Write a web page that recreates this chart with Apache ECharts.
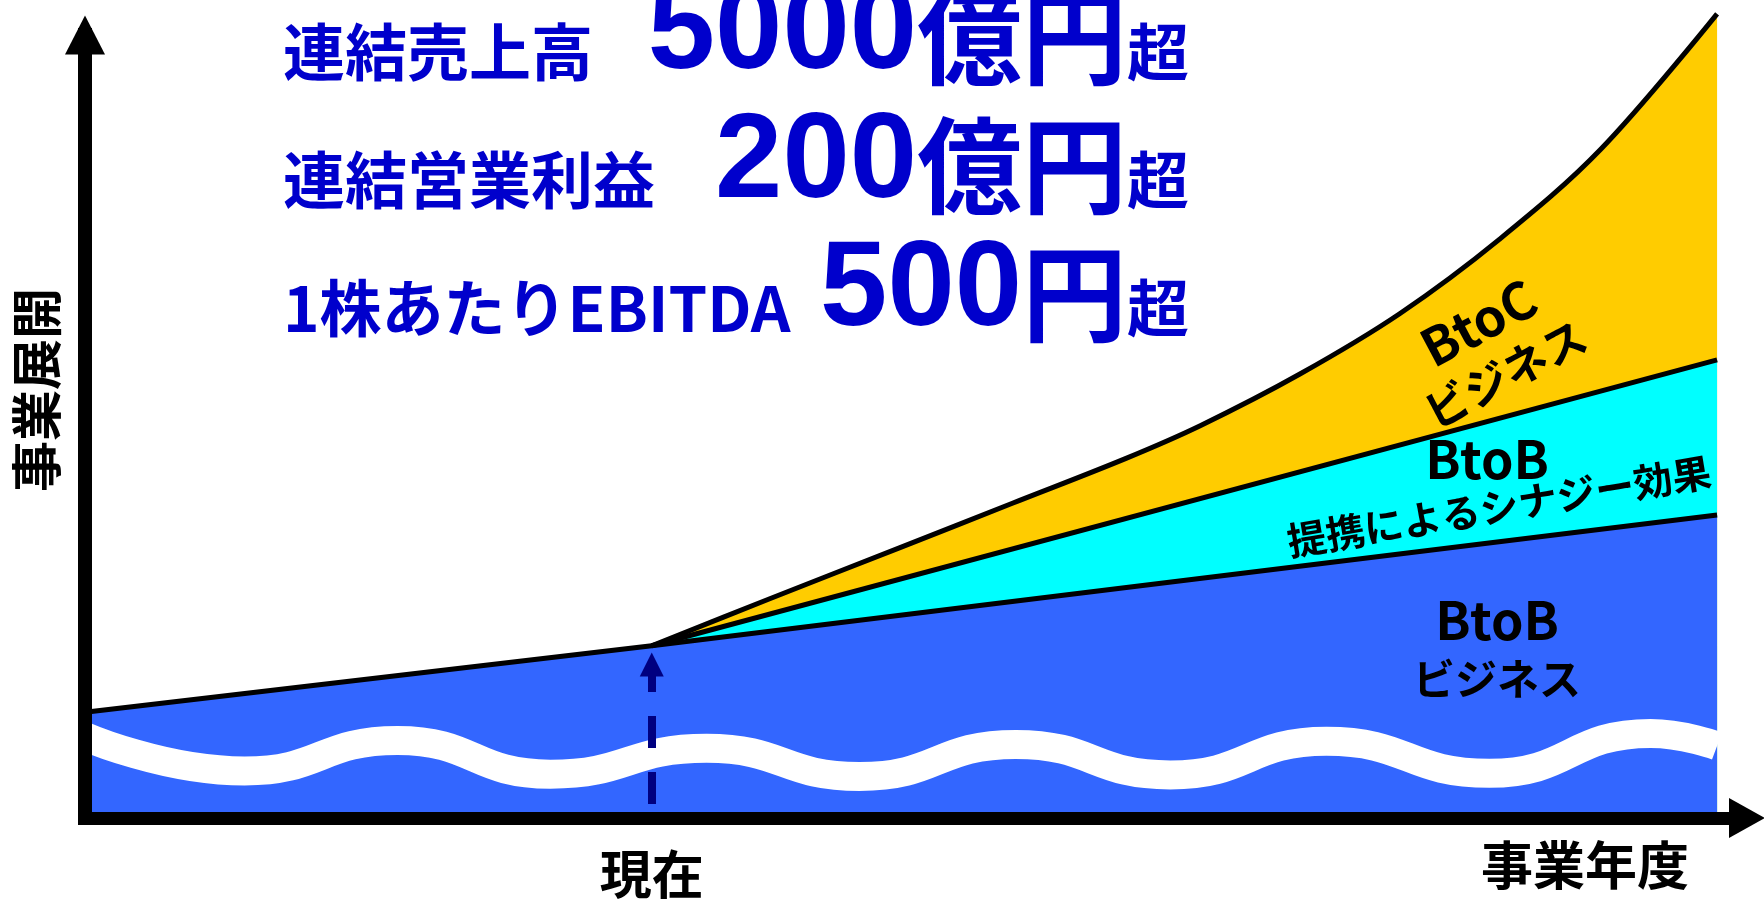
<!DOCTYPE html>
<html lang="ja">
<head>
<meta charset="utf-8">
<title>事業展開</title>
<script src="https://cdn.jsdelivr.net/npm/echarts@6/dist/echarts.min.js"></script>
<style>
  html, body { margin: 0; padding: 0; background: #ffffff; }
  #chart { width: 1764px; height: 900px; }
</style>
</head>
<body>
<div id="chart"></div>
<script>
// ---- axis texts -------------------------------------------------------
const xAxisTitle = '事業年度';
const yAxisTitle = '事業展開';
const nowLabel = '現在';
const nowYear = 34.1;              // position of "today" on the business-year scale

// ---- business levels (abstract units, 0–100 scale) ---------------------
// BtoB business (top of the blue band)
const btobX = [0, 34.1, 98.2];
const btobLevel = [13.5, 22.0, 38.7];
// BtoB + alliance synergy (top of the cyan band)
const synergyX = [34.1, 98.2];
const synergyLevel = [22.0, 58.5];
// BtoB + synergy + BtoC business (top of the yellow band)
const btocX = [34.1, 41.2, 49.0, 55.8, 62.6, 67.1, 73.1, 79.1, 85.1, 91.2, 98.2];
const btocLevel = [22.0, 28.0, 34.5, 40.2, 45.9, 50.1, 56.7, 64.4, 73.9, 85.4, 102.7];
// white wave running through the BtoB band
const waveX = [0, 9.6, 18.8, 28.0, 37.4, 46.6, 56.0, 65.3, 74.7, 84.5, 94.2, 98.2];
const waveLevel = [10.4, 6.0, 9.9, 5.6, 8.9, 5.3, 9.4, 5.5, 9.8, 5.7, 10.8, 9.2];
// dashed arrow rising from the axis at "today"
const nowArrowFrom = 1.8;
const nowArrowTo = 19.6;

// ---- headline targets --------------------------------------------------
const targetLabels = ['連結売上高', '連結営業利益', '1株あたりEBITDA'];
const targetValues = ['5000', '200', '500'];
const targetUnits = ['億円', '億円', '円'];
const targetSuffix = '超';

// ---- band captions -----------------------------------------------------
const bandCaptions = [
  { title: 'BtoC', sub: 'ビジネス' },
  { title: 'BtoB', sub: '' },
  { title: '', sub: '提携によるシナジー効果' },
  { title: 'BtoB', sub: 'ビジネス' }
];

const pairs = (xs, ys) => xs.map((x, i) => [x, ys[i]]);

const JP = '"Noto Sans CJK JP", "Noto Sans", sans-serif';
const LAT = '"Liberation Sans", Arial, "Noto Sans CJK JP", sans-serif';
const NAVY_TEXT = '#0000CC';

const chart = echarts.init(document.getElementById('chart'), null, { renderer: 'canvas' });

function bandSeries(name, data, color, smooth) {
  return {
    name: name,
    type: 'line',
    data: data,
    smooth: smooth,
    symbol: 'none',
    clip: false,
    silent: true,
    lineStyle: { color: '#000000', width: 5, join: 'round' },
    areaStyle: { color: color, opacity: 1 },
    emphasis: { disabled: true }
  };
}

chart.setOption({
  animation: false,
  backgroundColor: '#ffffff',
  grid: { left: 85, right: 17, top: 35, bottom: 79, containLabel: false },
  xAxis: {
    type: 'value',
    min: 0,
    max: 100,
    z: 5,
    splitLine: { show: false },
    axisTick: { show: false },
    axisLine: {
      show: true,
      symbol: ['none', 'triangle'],
      symbolSize: [40, 36],
      lineStyle: { color: '#000000', width: 13 }
    },
    axisLabel: {
      show: true,
      customValues: [nowYear],
      formatter: () => nowLabel,
      margin: 30,
      color: '#000000',
      fontSize: 52,
      fontWeight: 'bold',
      fontFamily: JP
    }
  },
  yAxis: {
    type: 'value',
    min: 0,
    max: 100,
    z: 5,
    splitLine: { show: false },
    axisTick: { show: false },
    axisLabel: { show: false },
    axisLine: {
      show: true,
      onZero: false,
      symbol: ['none', 'triangle'],
      symbolSize: [40, 39],
      lineStyle: { color: '#000000', width: 14, cap: 'square' }
    }
  },
  series: [
    bandSeries('BtoCビジネス', pairs(btocX, btocLevel), '#FFCC00', 0.35),
    bandSeries('提携によるシナジー効果', pairs(synergyX, synergyLevel), '#00FFFF', false),
    bandSeries('BtoBビジネス', pairs(btobX, btobLevel), '#3366FF', false),
    {
      name: 'wave',
      type: 'line',
      data: pairs(waveX, waveLevel),
      smooth: 0.5,
      symbol: 'none',
      clip: false,
      silent: true,
      lineStyle: { color: '#FFFFFF', width: 29, cap: 'butt' },
      emphasis: { disabled: true },
      markLine: {
        silent: true,
        animation: false,
        symbol: ['none', 'triangle'],
        symbolSize: [24, 24],
        label: { show: false },
        emphasis: { disabled: true },
        lineStyle: { color: '#000080', width: 8, type: [32, 24], cap: 'butt', opacity: 1 },
        data: [[{ coord: [nowYear, nowArrowFrom] }, { coord: [nowYear, nowArrowTo] }]]
      }
    }
  ]
});

// ---- texts placed over the chart ---------------------------------------
const graphics = [];

// headline rows
const rowSmallY = [52, 180, 308];
const rowBigY = [35, 164, 292];
const labelLeft = 283;
const unitRight = 1127;
const unitSize = 105;
targetLabels.forEach((label, i) => {
  graphics.push({
    type: 'text', x: labelLeft, y: rowSmallY[i], silent: true,
    style: { text: label, fill: NAVY_TEXT, font: 'bold 62px ' + JP, align: 'left', verticalAlign: 'middle' }
  });
  const numRight = unitRight - unitSize * targetUnits[i].length;
  graphics.push({
    type: 'text', x: numRight, y: rowBigY[i], silent: true,
    style: { text: targetValues[i], fill: NAVY_TEXT, font: 'bold 121px ' + LAT, align: 'right', verticalAlign: 'middle' }
  });
  graphics.push({
    type: 'text', x: unitRight, y: rowBigY[i] + 1, silent: true,
    style: { text: targetUnits[i], fill: NAVY_TEXT, font: 'bold ' + unitSize + 'px ' + JP, align: 'right', verticalAlign: 'middle' }
  });
  graphics.push({
    type: 'text', x: unitRight, y: rowSmallY[i], silent: true,
    style: { text: targetSuffix, fill: NAVY_TEXT, font: 'bold 62px ' + JP, align: 'left', verticalAlign: 'middle' }
  });
});

// axis titles
graphics.push({
  type: 'text', x: 1585, y: 865, silent: true,
  style: { text: xAxisTitle, fill: '#000000', font: 'bold 52px ' + JP, align: 'center', verticalAlign: 'middle' }
});
graphics.push({
  type: 'text', x: 37, y: 390, rotation: Math.PI / 2, silent: true,
  style: { text: yAxisTitle, fill: '#000000', font: 'bold 51px ' + JP, align: 'center', verticalAlign: 'middle' }
});

// band captions, anchored in data space
const captionLayout = [
  { at: [84.66, 60.0], rotate: 28, titleSize: 52, subSize: 44, lh: 58 },
  { at: [84.36, 45.8], rotate: 0, titleSize: 52, subSize: 40, lh: 58 },
  { at: [85.08, 39.8], rotate: 9.5, titleSize: 40, subSize: 39, lh: 46 },
  { at: [84.96, 21.5], rotate: 0, titleSize: 52, subSize: 42, lh: 58 }
];
bandCaptions.forEach((c, i) => {
  const lay = captionLayout[i];
  const p = chart.convertToPixel({ gridIndex: 0 }, lay.at);
  const parts = [];
  if (c.title) parts.push('{a|' + c.title + '}');
  if (c.sub) parts.push('{b|' + c.sub + '}');
  graphics.push({
    type: 'text', x: p[0], y: p[1], rotation: lay.rotate * Math.PI / 180, silent: true, z: 50,
    style: {
      text: parts.join('\n'),
      align: 'center',
      verticalAlign: 'middle',
      fill: '#000000',
      rich: {
        a: { font: 'bold ' + lay.titleSize + 'px ' + JP, fill: '#000000', lineHeight: lay.lh, align: 'center' },
        b: { font: 'bold ' + lay.subSize + 'px ' + JP, fill: '#000000', lineHeight: lay.lh, align: 'center' }
      }
    }
  });
});

chart.setOption({ graphic: graphics });
</script>
</body>
</html>
